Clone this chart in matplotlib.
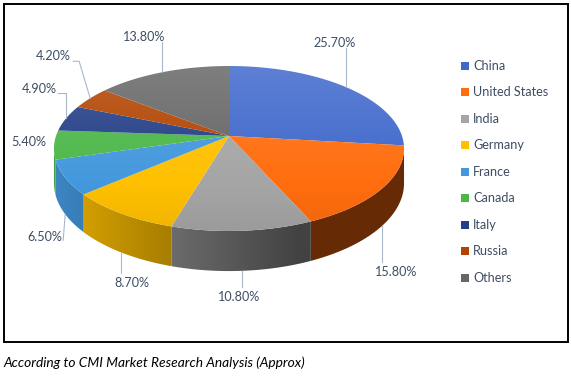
import numpy as np
import matplotlib.pyplot as plt
from matplotlib.patches import Polygon, Rectangle
from matplotlib.colors import to_rgb

countries = ["China", "United States", "India", "Germany", "France",
             "Canada", "Italy", "Russia", "Others"]
shares = [25.7, 15.8, 10.8, 8.7, 6.5, 5.4, 4.9, 4.2, 13.8]
colors = ["#3F68CC", "#FF6D0E", "#A5A5A5", "#FFC000", "#4398DD",
          "#4CB749", "#233E86", "#B24300", "#666666"]

# label text centre offset from slice edge, and leader path (offsets from edge)
label_offsets = [(-11.5, -44), (14, 46), (-3.5, 26), (10.6, 30), (-20.5, 23),
                 (-25.5, -3), (-27, -29), (-37, -42), (-18, -35)]
leader_paths = [[(0, -39)], [(0, 36)], [(0, 16)], [(0, 20)], [(-2, 26)],
                [], [(0, -25), (-8, -25)], [(-11, -37), (-17, -37)], [(0, -30)]]

TEXT = "#3E4D63"
LEADER = "#A9B7CB"
plt.rcParams["font.family"] = ["Lato", "DejaVu Sans"]

# 3d pie geometry (pixel space)
CX, CY = 229, 136
RX, RY, DEPTH, K = 173, 80.6, 34, 0.1515


def proj(t, z=0.0):
    u, v = np.sin(t), -np.cos(t)
    w = 1 - K * v
    return CX + RX * u / w, CY + (RY * v + DEPTH * z) / w


def gradient_fill(ax, poly, cols, horizontal, zorder):
    patch = Polygon(poly, closed=True, fc="none", ec="none", zorder=zorder)
    ax.add_patch(patch)
    x0, y0 = poly.min(axis=0)
    x1, y1 = poly.max(axis=0)
    img = cols[np.newaxis, :, :] if horizontal else cols[:, np.newaxis, :]
    im = ax.imshow(img, extent=(x0 - 1, x1 + 1, y1 + 1, y0 - 1), aspect="auto",
                   interpolation="bilinear", zorder=zorder)
    im.set_clip_path(patch)


def main():
    fig = plt.figure(figsize=(5.71, 3.77), dpi=100)
    ax = fig.add_axes([0, 0, 1, 1])

    fr = np.array(shares) / sum(shares)
    edges = np.concatenate([[0], np.cumsum(fr)]) * 2 * np.pi
    t_left = np.arccos(-K)
    t_right = 2 * np.pi - t_left
    top_y, bot_y = proj(0)[1], proj(np.pi)[1]

    # side walls
    for i, c in enumerate(colors):
        a, b = max(edges[i], t_left), min(edges[i + 1], t_right)
        if b <= a:
            continue
        ts = np.linspace(a, b, 80)
        tx, ty = proj(ts, 0)
        bx, by = proj(ts, 1)
        poly = np.column_stack([np.concatenate([tx, bx[::-1]]),
                                np.concatenate([ty, by[::-1]])])
        xs = np.linspace(poly[:, 0].min(), poly[:, 0].max(), 60)
        f = np.clip(0.88 - 0.5 * (xs - 55) / 255, 0.4, 1)
        cols = np.array(to_rgb(c))[None, :] * f[:, None]
        gradient_fill(ax, poly, cols, True, 1)

    # top faces
    for i, c in enumerate(colors):
        ts = np.linspace(edges[i], edges[i + 1], 120)
        x, y = proj(ts, 0)
        poly = np.column_stack([np.concatenate([[CX], x]), np.concatenate([[CY], y])])
        ys = np.linspace(poly[:, 1].min(), poly[:, 1].max(), 60)
        a = 0.16 - 0.22 * (ys - top_y) / (bot_y - top_y)
        base = np.array(to_rgb(c))[None, :]
        light = base + (1 - base) * np.clip(a, 0, 1)[:, None]
        cols = np.where(a[:, None] >= 0, light, base * (1 + a[:, None]))
        gradient_fill(ax, poly, np.clip(cols, 0, 1), False, 2)

    # data labels with leader lines
    for i, v in enumerate(shares):
        tm = (edges[i] + edges[i + 1]) / 2
        front = t_left < tm < t_right and np.cos(tm) < -0.3
        ex, ey = proj(tm, 1 if front else 0)
        if leader_paths[i]:
            px = [ex] + [ex + dx for dx, dy in leader_paths[i]]
            py = [ey] + [ey + dy for dx, dy in leader_paths[i]]
            ax.plot(px, py, color=LEADER, lw=0.8, zorder=3)
        dx, dy = label_offsets[i]
        ax.text(ex + dx, ey + dy, f"{v:.2f}%", ha="center", va="center",
                fontsize=9.1, color=TEXT, zorder=4)

    # legend
    for i, (name, c) in enumerate(zip(countries, colors)):
        y = 65.7 + i * 26.5
        ax.add_patch(Rectangle((461, y - 4), 8, 8, fc=c, ec="none"))
        ax.text(473, y, name, ha="left", va="center", fontsize=9.1, color=TEXT)

    ax.add_patch(Rectangle((4, 4), 564, 338, fill=False, ec="black", lw=1.4))
    ax.text(3, 363, "According to CMI Market Research Analysis (Approx)",
            ha="left", va="center", fontsize=9.9, style="italic", color="black")

    ax.set_xlim(0, 571)
    ax.set_ylim(377, 0)
    ax.axis("off")
    fig.savefig("out.png", dpi=100)


if __name__ == "__main__":
    main()
